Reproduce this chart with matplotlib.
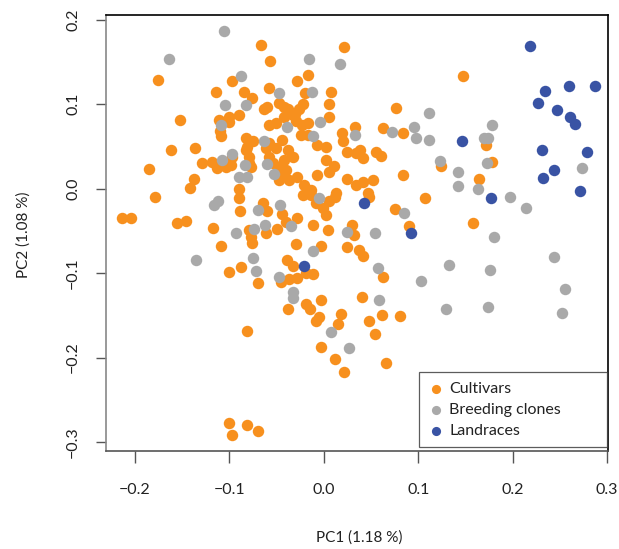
import matplotlib
matplotlib.use("Agg")
import matplotlib.pyplot as plt
import numpy as np

# PCA scores (PC1, PC2)
cult_pc1 = [-0.067, 0.021, -0.057, -0.176, -0.097, -0.017, -0.028, 0.148, -0.1145, -0.085,
            -0.076, -0.058, -0.020, 0.008, -0.063, -0.060, -0.047, -0.042, -0.042, -0.051,
            -0.038, -0.033, -0.0225, -0.026, -0.031, -0.029, -0.023, -0.017, -0.024, -0.017,
            0.005, 0.006, 0.077, -0.152, -0.111, -0.100, -0.090, -0.100, -0.110, -0.109,
            -0.083, -0.075, -0.082, -0.079, -0.079, -0.077, -0.058, -0.162, -0.136, -0.185,
            -0.129, -0.118, -0.113, -0.104, -0.097, -0.0985, -0.081, -0.061, -0.058, -0.051,
            -0.044, -0.058, -0.054, -0.049, -0.042, -0.047, -0.042, -0.1375, -0.142, -0.090,
            -0.038, -0.033, -0.040, -0.037, 0.033, 0.063, 0.084, 0.019, 0.020, -0.007,
            0.002, 0.025, 0.038, 0.041, 0.034, 0.055, 0.061, 0.002, 0.011, 0.006,
            -0.007, 0.025, 0.034, 0.041, 0.052, 0.013, 0.0465, 0.084, -0.028, -0.021,
            -0.014, 0.172, 0.124, 0.178, 0.164, 0.107, 0.158,
            -0.179, -0.2136, -0.2047, -0.156, -0.146, -0.117, -0.1085, -0.100, -0.088, -0.0695,
            -0.090, -0.089, -0.079, -0.077, -0.076, -0.064, -0.060, -0.061, -0.050, -0.044,
            -0.040, -0.028, -0.012, 0.004, -0.0295, -0.003, -0.0225, -0.0136, -0.008, -0.001,
            0.002, 0.006, 0.012, -0.039, -0.033, -0.0455, -0.037, -0.0285, -0.019, -0.012,
            -0.038, -0.019, -0.015, -0.003, -0.008, -0.005, -0.081, 0.018, 0.015, 0.030,
            0.032, 0.048, 0.025, 0.037, 0.041, 0.063, 0.040, 0.048, 0.062, 0.081,
            0.075, 0.090, -0.003, 0.0115, 0.021, 0.054, 0.066, -0.101, -0.0975, -0.081,
            -0.0695]
cult_pc2 = [0.170, 0.168, 0.151, 0.129, 0.128, 0.135, 0.128, 0.133, 0.115, 0.115,
            0.108, 0.119, 0.113, 0.115, 0.095, 0.097, 0.101, 0.097, 0.085, 0.078,
            0.095, 0.087, 0.100, 0.094, 0.089, 0.080, 0.076, 0.078, 0.064, 0.064,
            0.100, 0.085, 0.096, 0.0815, 0.082, 0.085, 0.087, 0.0795, 0.068, 0.062,
            0.060, 0.056, 0.046, 0.038, 0.030, 0.026, 0.0756, 0.046, 0.048, 0.023,
            0.031, 0.032, 0.024, 0.026, 0.038, 0.028, 0.050, 0.048, 0.054, 0.048,
            0.058, 0.038, 0.030, 0.026, 0.034, 0.010, 0.018, 0.012, 0.0005, 0.000,
            0.046, 0.038, 0.022, 0.010, 0.0735, 0.072, 0.066, 0.066, 0.056, 0.052,
            0.049, 0.044, 0.046, 0.036, 0.042, 0.043, 0.039, 0.034, 0.027, 0.020,
            0.016, 0.012, 0.004, 0.008, 0.010, -0.0055, -0.0055, 0.016, 0.014, 0.004,
            -0.0015, 0.052, 0.027, 0.032, 0.012, -0.011, -0.041,
            -0.010, -0.035, -0.035, -0.041, -0.038, -0.047, -0.068, -0.0985, -0.0925, -0.112,
            -0.011, -0.026, -0.049, -0.057, -0.064, -0.017, -0.026, -0.052, -0.048, -0.030,
            -0.039, -0.035, -0.043, -0.049, -0.066, -0.068, -0.0075, -0.0075, -0.017, -0.023,
            -0.031, -0.015, -0.0095, -0.085, -0.092, -0.110, -0.1075, -0.106, -0.100, -0.101,
            -0.142, -0.137, -0.142, -0.132, -0.157, -0.152, -0.168, -0.148, -0.160, -0.043,
            -0.055, -0.0095, -0.069, -0.073, -0.0795, -0.105, -0.128, -0.157, -0.149, -0.151,
            -0.024, -0.044, -0.188, -0.202, -0.217, -0.172, -0.206, -0.278, -0.292, -0.280,
            -0.287]

clone_pc1 = [-0.106, -0.164, -0.088, -0.105, -0.082, -0.109, -0.063, -0.108, -0.097, -0.084,
             -0.060, -0.047, -0.039, -0.090, -0.081, -0.0525, -0.016, 0.017, -0.013, -0.004,
             0.072, 0.096, 0.098, 0.111, 0.111, -0.011, 0.033, 0.178, 0.170, 0.174,
             0.123, 0.142, 0.173, 0.274, 0.142, 0.163, 0.197, 0.214, 0.180, 0.1325,
             0.176, 0.244, 0.103, 0.256, 0.130, 0.174, 0.252, -0.116, -0.112, -0.070,
             -0.093, -0.062, -0.135, -0.075, -0.072, -0.074, -0.0465, -0.035, -0.047, -0.012,
             -0.033, -0.033, -0.005, 0.025, 0.054, 0.057, 0.058, 0.085, 0.008, 0.027]
clone_pc2 = [0.187, 0.154, 0.133, 0.099, 0.099, 0.0755, 0.057, 0.034, 0.041, 0.028,
             0.029, 0.113, 0.073, 0.0135, 0.0135, 0.018, 0.154, 0.148, 0.114, 0.0795,
             0.067, 0.073, 0.060, 0.090, 0.058, 0.062, 0.064, 0.075, 0.060, 0.060,
             0.033, 0.020, 0.030, 0.025, 0.003, 0.000, -0.010, -0.023, -0.057, -0.0905,
             -0.096, -0.081, -0.109, -0.119, -0.142, -0.140, -0.147, -0.019, -0.015, -0.025,
             -0.052, -0.043, -0.084, -0.082, -0.097, -0.048, -0.019, -0.044, -0.105, -0.0735,
             -0.122, -0.130, -0.011, -0.051, -0.052, -0.094, -0.132, -0.029, -0.170, -0.189]

land_pc1 = [0.218, 0.234, 0.260, 0.287, 0.227, 0.247, 0.261, 0.266, 0.231, 0.279,
            0.244, 0.232, 0.272, 0.146, 0.177, 0.043, 0.092, -0.021]
land_pc2 = [0.169, 0.116, 0.122, 0.122, 0.101, 0.093, 0.085, 0.077, 0.046, 0.043,
            0.022, 0.013, -0.003, 0.056, -0.011, -0.017, -0.052, -0.091]

groups = ["Cultivars", "Breeding clones", "Landraces"]
colours = ["#F7901E", "#A9A9A9", "#3953A4"]

plt.rcParams['font.family'] = ['Lato', 'DejaVu Sans']

fig = plt.figure(figsize=(6.19, 5.49), dpi=100)
ax = fig.add_axes([0.171, 0.178, 0.811, 0.795])

pt = 68
ax.scatter(cult_pc1, cult_pc2, s=pt, color=colours[0], linewidths=0, label=groups[0], zorder=2)
ax.scatter(clone_pc1, clone_pc2, s=pt, color=colours[1], linewidths=0, label=groups[1], zorder=2)
ax.scatter(land_pc1, land_pc2, s=pt, color=colours[2], linewidths=0, label=groups[2], zorder=3)

ax.set_xlim(-0.231, 0.301)
ax.set_ylim(-0.311, 0.206)
ax.set_xticks(np.arange(-0.2, 0.31, 0.1))
ax.set_yticks(np.arange(-0.3, 0.21, 0.1))
fmt = lambda v, p: ("%.1f" % v).replace("-", "\u2212")
ax.xaxis.set_major_formatter(plt.FuncFormatter(fmt))
ax.yaxis.set_major_formatter(plt.FuncFormatter(fmt))

# R style axes: ticks outside, y labels turned vertical
ax.tick_params(axis='x', direction='out', length=8.5, width=1, color='#555555',
               labelsize=11.5, labelcolor='#222222', pad=14)
ax.tick_params(axis='y', direction='out', length=7.5, width=1, color='#555555',
               labelsize=11.5, labelcolor='#222222', pad=11)
for lab in ax.get_yticklabels():
    lab.set_rotation(90)
    lab.set_va('center')

for side in ['top', 'right']:
    ax.spines[side].set_color('black')
    ax.spines[side].set_linewidth(1.2)
ax.spines['left'].set_color('#888888')
ax.spines['bottom'].set_color('#555555')
ax.spines['left'].set_linewidth(1.2)
ax.spines['bottom'].set_linewidth(1.2)

ax.set_xlabel("PC1 (1.18 %)", fontsize=11, color='#222222')
ax.set_ylabel("PC2 (1.08 %)", fontsize=11, color='#222222')
ax.xaxis.label.set_va('center')
ax.yaxis.label.set_va('center')
ax.xaxis.set_label_coords(0.505, -0.197)
ax.yaxis.set_label_coords(-0.163, 0.495)

leg = ax.legend(loc='lower left', bbox_to_anchor=(0.6235, 0.009, 0.3745, 0.2),
                mode='expand', borderaxespad=0, fontsize=11.5, markerscale=0.8,
                handletextpad=0.3, handlelength=1.0, labelspacing=0.42,
                borderpad=0.6, fancybox=False, frameon=True)
leg.get_frame().set_edgecolor('#333333')
leg.get_frame().set_linewidth(0.9)
for t in leg.get_texts():
    t.set_color('#222222')

fig.savefig("out.png", dpi=100)
